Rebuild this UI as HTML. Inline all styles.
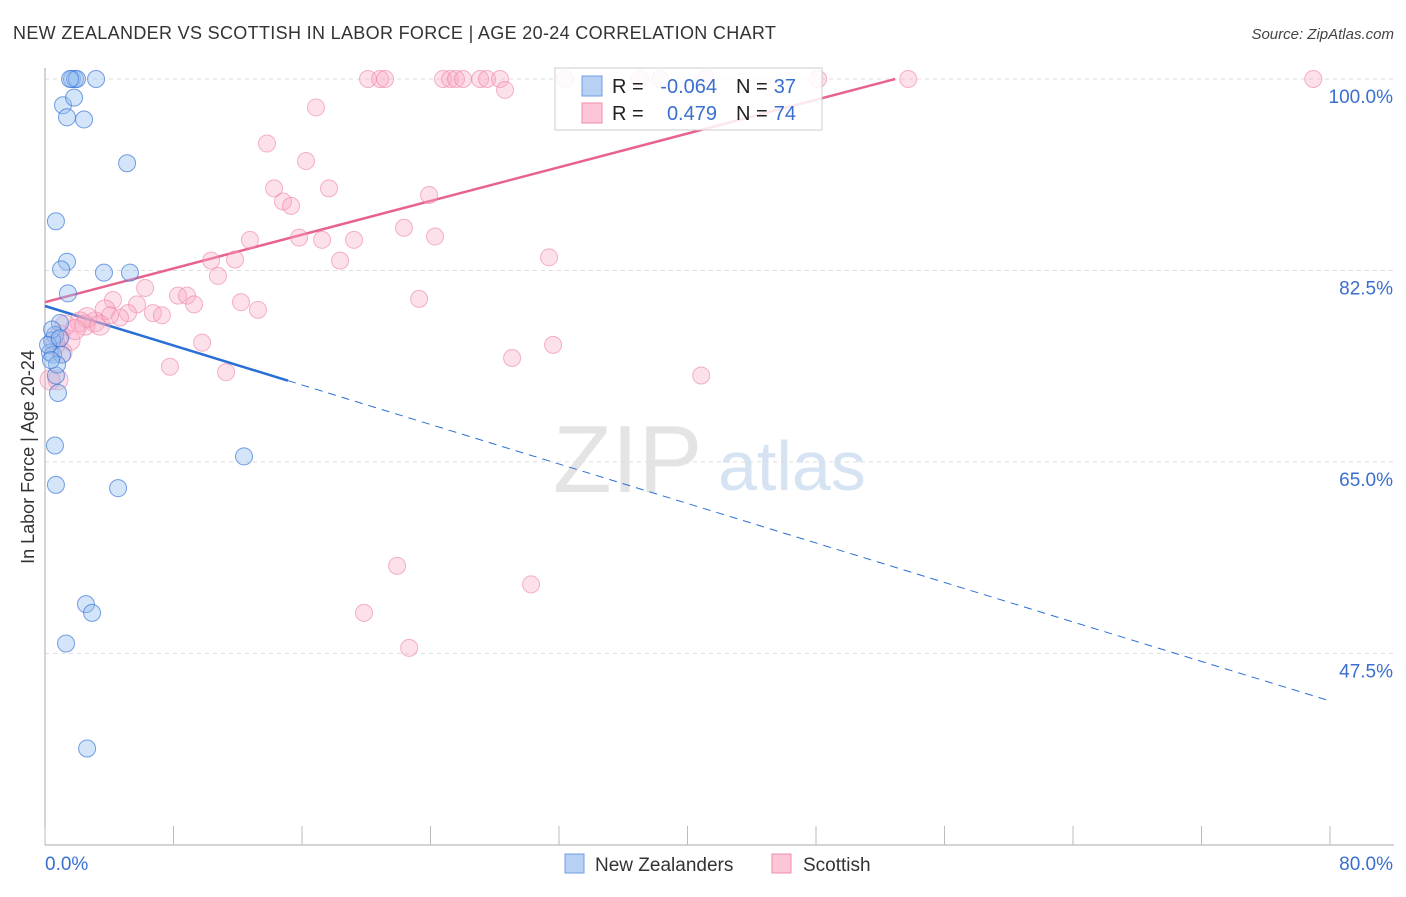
<!DOCTYPE html>
<html><head><meta charset="utf-8"><style>
body{margin:0;background:#fff;font-family:"Liberation Sans",sans-serif}
svg text{font-family:"Liberation Sans",sans-serif}
</style></head><body>
<svg id="chart" width="1406" height="892" xmlns="http://www.w3.org/2000/svg">
<text x="13" y="39" font-size="18" fill="#333" letter-spacing="0.33">NEW ZEALANDER VS SCOTTISH IN LABOR FORCE | AGE 20-24 CORRELATION CHART</text>
<text x="1394" y="39" font-size="15" fill="#444" text-anchor="end" font-style="italic">Source: ZipAtlas.com</text>
<text transform="translate(34,457) rotate(-90)" font-size="18" fill="#333" text-anchor="middle">In Labor Force | Age 20-24</text>
<g><text x="553" y="492" font-size="96" fill="#e4e4e4" font-family="Liberation Serif">ZIP</text><text x="718" y="490" font-size="70" fill="#d6e3f3">atlas</text></g>
<g id="grid"></g><g id="axes"></g><g id="trends"></g><g id="pts"></g>
<g>
<rect x="555" y="68" width="267" height="62" fill="rgba(255,255,255,0.85)" stroke="#ccc"/>
<rect x="582" y="76" width="20" height="20" fill="#b7d0f3" stroke="#6d9ee0"/>
<rect x="582" y="103" width="20" height="20" fill="#fcc6d6" stroke="#ee8eac"/>
<text x="612" y="93" font-size="20" fill="#222">R = </text><text x="717" y="93" font-size="20" fill="#3a6fd0" text-anchor="end">-0.064</text>
<text x="736" y="93" font-size="20" fill="#222">N = </text><text x="796" y="93" font-size="20" fill="#3a6fd0" text-anchor="end">37</text>
<text x="612" y="120" font-size="20" fill="#222">R = </text><text x="717" y="120" font-size="20" fill="#3a6fd0" text-anchor="end">0.479</text>
<text x="736" y="120" font-size="20" fill="#222">N = </text><text x="796" y="120" font-size="20" fill="#3a6fd0" text-anchor="end">74</text>
</g>
<g>
<rect x="565" y="854" width="19" height="19" fill="#b7d0f3" stroke="#6d9ee0"/>
<text x="595" y="871" font-size="19" fill="#333">New Zealanders</text>
<rect x="772" y="854" width="19" height="19" fill="#fcc6d6" stroke="#ee8eac"/>
<text x="803" y="871" font-size="19" fill="#333">Scottish</text>
</g>
</svg>
<script>
const yTicks=[100,82.5,65,47.5];
const yTickLabels=["100.0%","82.5%","65.0%","47.5%"];
const xEnds=[0,80];
const xEndLabels=["0.0%","80.0%"];
const nzX=[1.68,1.87,1.99,3.18,1.12,1.81,1.37,2.43,5.11,0.68,1.37,1.0,3.67,5.29,1.43,0.93,0.62,0.44,0.31,0.5,1.06,0.68,0.81,0.62,0.68,4.55,12.39,2.55,2.93,1.31,2.62,0.44,0.19,0.75,0.37,1.56,0.93];
const nzY=[100,100,100,100,97.6,98.3,96.5,96.3,92.3,87.0,83.3,82.6,82.3,82.3,80.4,77.7,76.6,76.1,75.0,74.8,74.8,72.9,71.3,66.5,62.9,62.6,65.5,52.0,51.2,48.4,38.8,77.1,75.7,73.9,74.3,100,76.3];
const scX=[20.11,20.86,21.17,24.78,25.22,25.59,26.03,27.09,27.52,28.33,28.64,32.38,37.05,38.29,41.16,48.13,53.74,78.96,16.87,13.82,16.25,14.26,17.68,14.82,15.32,23.91,12.76,15.82,17.25,19.24,22.35,24.28,31.38,10.34,11.83,18.37,10.77,6.23,8.28,8.84,9.28,4.23,12.2,13.26,23.29,5.73,5.17,3.74,6.72,7.28,2.18,3.11,2.62,4.67,9.78,29.08,31.63,7.78,11.27,40.85,21.92,30.26,19.86,22.67,0.93,1.56,1.25,0.62,0.81,0.31,2.49,3.42,1.87,1.06,4.05];
const scY=[100,100,100,100,100,100,100,100,100,100,99.0,100,100,100,100,100,100,100,97.4,94.1,92.5,90.0,90.0,88.8,88.4,89.4,85.3,85.5,85.3,85.3,86.4,85.6,83.7,83.4,83.5,83.4,82.0,80.9,80.2,80.2,79.4,79.8,79.6,78.9,79.9,79.4,78.6,78.9,78.6,78.4,77.8,77.8,78.2,78.2,75.9,74.5,75.7,73.7,73.2,72.9,55.5,53.8,51.2,48.0,76.6,76.1,77.5,75.7,72.5,72.5,77.5,77.5,77.1,75.0,78.4];
const nzTrend=[79.25,43.2]; const nzSolidEnd=15.13;
const scTrend=[79.6,100]; const scEnd=52.93;
const X=v=>45+v*(1285/80), Y=v=>79+(100-v)*10.94;
const NS="http://www.w3.org/2000/svg";
function mk(p,t,a){const e=document.createElementNS(NS,t);for(const k in a)e.setAttribute(k,a[k]);document.getElementById(p).appendChild(e);return e;}
yTicks.forEach((t,i)=>{
 const l=mk('grid','line',{x1:45,x2:1394,y1:Y(t),y2:Y(t),stroke:'#ddd','stroke-dasharray':'4,4'});
 
 
 const tx=mk('grid','text',{x:1393,y:Y(t)+24,'font-size':19,fill:'#3a6fd0','text-anchor':'end'});tx.textContent=yTickLabels[i];
 
 
});
let ax=mk('axes','line',{x1:45,x2:45,y1:68,y2:845,stroke:'#aaa'});


ax=mk('axes','line',{x1:45,x2:1394,y1:845,y2:845,stroke:'#aaa'});


for(let i=0;i<=10;i++){const tk=mk('axes','line',{x1:X(i*8),x2:X(i*8),y1:826,y2:845,stroke:'#bbb'});
 
 }
xEnds.forEach((v,i)=>{const t=mk('axes','text',{x:i?1393:45,y:870,'font-size':19,fill:'#3a6fd0','text-anchor':i?'end':'start'});t.textContent=xEndLabels[i];
 
 });
function lineAt(a,xe,x){return a[0]+(a[1]-a[0])*x/xe;}
scX.forEach((x,i)=>{const c=mk('pts','circle',{cx:X(x),cy:Y(scY[i]),r:x<4?10:8.5,fill:'rgba(248,170,195,0.35)',stroke:'rgba(236,130,165,0.6)'});
 
 });
nzX.forEach((x,i)=>{const c=mk('pts','circle',{cx:X(x),cy:Y(nzY[i]),r:8.5,fill:'rgba(150,190,240,0.4)',stroke:'rgba(60,120,215,0.7)'});
 
 });
let t=mk('trends','line',{x1:X(0),y1:Y(scTrend[0]),x2:X(scEnd),y2:Y(scTrend[1]),stroke:'#e8628e','stroke-width':2.5});


t=mk('trends','line',{x1:X(0),y1:Y(nzTrend[0]),x2:X(nzSolidEnd),y2:Y(lineAt(nzTrend,79.89,nzSolidEnd)),stroke:'#2a6fd6','stroke-width':2.5});


t=mk('trends','line',{x1:X(nzSolidEnd),y1:Y(lineAt(nzTrend,79.89,nzSolidEnd)),x2:X(79.89),y2:Y(nzTrend[1]),stroke:'#2a6fd6','stroke-width':1,'stroke-dasharray':'8,6'});


</script>
</body></html>
